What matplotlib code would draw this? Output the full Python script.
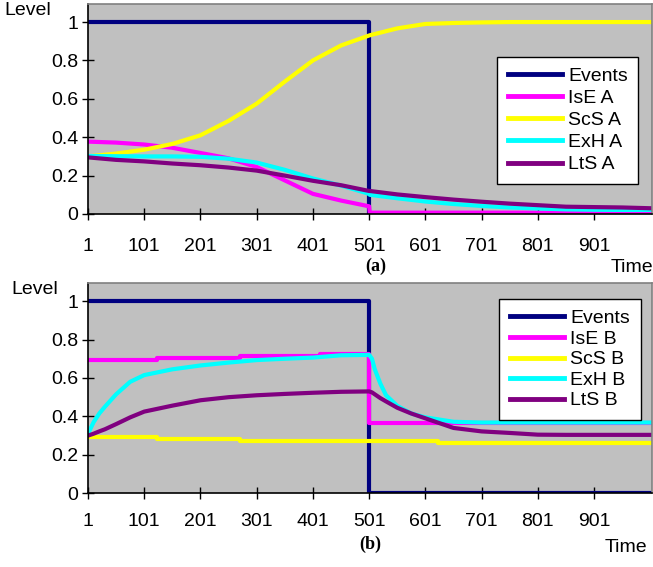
import matplotlib
matplotlib.use("Agg")
import matplotlib.pyplot as plt

plt.rcParams['font.family'] = ['Liberation Sans', 'DejaVu Sans']

# ---- data, panel (a)
time_a = [1, 51, 101, 151, 201, 251, 301, 351, 401, 451, 501, 502,
          551, 601, 651, 701, 751, 801, 851, 901, 951, 1001]
ise_a = [0.377, 0.372, 0.362, 0.345, 0.318, 0.29, 0.245, 0.175, 0.105, 0.07, 0.04, 0.007,
         0.007, 0.007, 0.007, 0.007, 0.007, 0.007, 0.007, 0.007, 0.007, 0.007]
scs_a = [0.30, 0.315, 0.335, 0.365, 0.41, 0.485, 0.575, 0.69, 0.80, 0.878, 0.93, 0.931,
         0.967, 0.99, 0.995, 0.998, 1.0, 1.0, 1.0, 1.0, 1.0, 1.0]
exh_a = [0.302, 0.301, 0.30, 0.30, 0.298, 0.288, 0.268, 0.23, 0.185, 0.148, 0.105, 0.10,
         0.082, 0.065, 0.052, 0.042, 0.034, 0.029, 0.024, 0.022, 0.021, 0.021]
lts_a = [0.295, 0.282, 0.274, 0.263, 0.254, 0.242, 0.226, 0.20, 0.173, 0.15, 0.12, 0.12,
         0.102, 0.088, 0.075, 0.064, 0.054, 0.046, 0.038, 0.036, 0.034, 0.03]

# ---- data, panel (b)
time_b = [1, 11, 21, 31, 51, 76, 101, 151, 201, 251, 301, 351, 401, 451, 501,
          506, 511, 521, 531, 551, 576, 601, 651, 701, 751, 801, 851, 901, 951, 1001]
exh_b = [0.31, 0.37, 0.415, 0.45, 0.515, 0.58, 0.615, 0.645, 0.665, 0.68, 0.693, 0.70,
         0.706, 0.718, 0.72, 0.70, 0.645, 0.57, 0.51, 0.455, 0.415, 0.395, 0.372, 0.368,
         0.368, 0.368, 0.368, 0.368, 0.368, 0.368]
lts_b = [0.30, 0.31, 0.322, 0.333, 0.36, 0.395, 0.425, 0.456, 0.484, 0.50, 0.51, 0.517,
         0.523, 0.528, 0.53, 0.525, 0.515, 0.495, 0.478, 0.445, 0.415, 0.39, 0.34, 0.322,
         0.314, 0.305, 0.304, 0.304, 0.304, 0.304]
ise_b_t = [1, 123, 271, 414, 501, 1001]
ise_b = [0.694, 0.703, 0.715, 0.727, 0.368, 0.368]
scs_b_t = [1, 123, 271, 624, 1001]
scs_b = [0.295, 0.282, 0.27, 0.26, 0.26]

# events are the same in both runs
event_t = [1, 501, 501, 1001]
event_v = [1, 1, 0, 0]

xticks = [1, 101, 201, 301, 401, 501, 601, 701, 801, 901]
yticks = [0, 0.2, 0.4, 0.6, 0.8, 1]
ylabels = ['0', '0.2', '0.4', '0.6', '0.8', '1']

NAVY = '#000080'
MAG = '#FF00FF'
YEL = '#FFFF00'
CYAN = '#00FFFF'
PURP = '#800080'
W, H = 653, 567
FS = 14

fig = plt.figure(figsize=(W / 100, H / 100), dpi=100)


def px(x, y):
    return x / W, 1 - y / H


def style(ax, xpad):
    ax.set_facecolor('#C0C0C0')
    ax.set_xlim(1, 1004)
    ax.set_ylim(0, 1.094)
    ax.set_xticks(xticks)
    ax.set_yticks(yticks)
    ax.set_yticklabels(ylabels)
    ax.tick_params(axis='both', direction='inout', length=8, width=1, labelsize=FS)
    ax.tick_params(axis='x', pad=xpad)
    ax.tick_params(axis='y', pad=3)
    for s in ['top', 'right']:
        ax.spines[s].set_color('#808080')
        ax.spines[s].set_linewidth(1.2)
    for s in ['left', 'bottom']:
        ax.spines[s].set_color('black')
        ax.spines[s].set_linewidth(1.2)


def legend(ax, anchor, spacing):
    leg = ax.legend(loc='upper right', bbox_to_anchor=anchor, fontsize=FS,
                    frameon=True, fancybox=False, framealpha=1, edgecolor='black',
                    handlelength=2.8, labelspacing=spacing, borderpad=0.55,
                    handletextpad=0.3, borderaxespad=0)
    leg.get_frame().set_linewidth(1)
    for h in leg.get_lines():
        h.set_linewidth(3.5)


lw = 3

axa = fig.add_axes([88 / W, 1 - 214 / H, 564 / W, 210 / H])
axa.plot(event_t, event_v, color=NAVY, lw=lw, label='Events')
axa.plot(time_a, ise_a, color=MAG, lw=lw, label='IsE A')
axa.plot(time_a, scs_a, color=YEL, lw=lw, label='ScS A')
axa.plot(time_a, exh_a, color=CYAN, lw=lw, label='ExH A')
axa.plot(time_a, lts_a, color=PURP, lw=lw, label='LtS A')
style(axa, 13)
legend(axa, (0.976, 0.749), 0.23)

axb = fig.add_axes([88 / W, 1 - 493.3 / H, 564 / W, 210.3 / H])
axb.plot(event_t, event_v, color=NAVY, lw=lw, label='Events')
axb.step(ise_b_t, ise_b, where='post', color=MAG, lw=lw, label='IsE B')
axb.step(scs_b_t, scs_b, where='post', color=YEL, lw=lw, label='ScS B')
axb.plot(time_b, exh_b, color=CYAN, lw=lw, label='ExH B')
axb.plot(time_b, lts_b, color=PURP, lw=lw, label='LtS B')
style(axb, 10)
legend(axb, (0.980, 0.924), 0.15)

# captions around the panels
fig.text(*px(4, 2), 'Level', fontsize=FS, ha='left', va='top')
fig.text(*px(11, 281), 'Level', fontsize=FS, ha='left', va='top')
fig.text(*px(653, 276), 'Time', fontsize=FS, ha='right', va='bottom')
fig.text(*px(647, 556), 'Time', fontsize=FS, ha='right', va='bottom')
fig.text(*px(376, 275), '(a)', fontsize=13, fontweight='bold',
         family='Liberation Serif', ha='center', va='bottom')
fig.text(*px(370, 553), '(b)', fontsize=13, fontweight='bold',
         family='Liberation Serif', ha='center', va='bottom')

fig.savefig('out.png', dpi=100)
